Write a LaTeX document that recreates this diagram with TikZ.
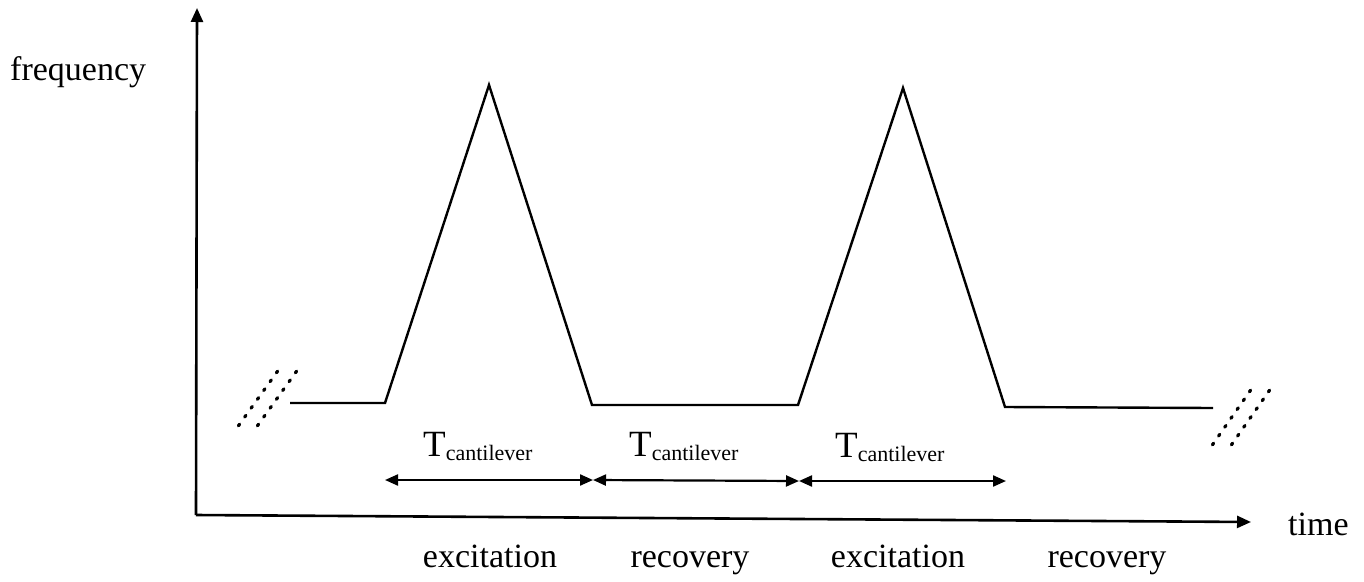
\documentclass[tikz,border=0pt]{standalone}
\usepackage{fontspec}
\setmainfont{Liberation Serif}
\usetikzlibrary{arrows.meta,calc}
\tikzset{
  axis/.style={line width=2.6pt,-{Triangle[length=14pt,width=12pt]}},
  signal/.style={line width=2.4pt,line join=miter},
  dimarrow/.style={line width=2.2pt,{Triangle[length=13pt,width=11pt]}-{Triangle[length=13pt,width=11pt]}},
  lbl/.style={font=\fontsize{34}{34}\selectfont,inner sep=0pt,anchor=base},
  tlbl/.style={inner sep=0pt,anchor=base west},
  dotseg/.style={line width=3.2pt,line cap=round}
}
\newcommand{\tcant}{{\fontsize{37}{37}\selectfont T}{\fontsize{22}{22}\selectfont\raisebox{-4pt}{cantilever}}}
\begin{document}
\begin{tikzpicture}[x=1pt,y=-1pt]
\useasboundingbox (0,0) rectangle (1364,581);
% axes
\coordinate (O) at (196,515);
\coordinate (ytop) at (197,8);
\coordinate (xend) at (1251,522);
\draw[axis] (O) -- (ytop);
\draw[axis] (O) -- (xend);
% axis labels
\node[lbl,anchor=base west] (freq) at (10,80) {frequency};
\node[lbl,anchor=base west] (time) at (1288,535) {time};
% signal
\coordinate (s0) at (290,403);
\coordinate (s1) at (385,403);
\coordinate (p1) at (489,85);
\coordinate (s2) at (592,405);
\coordinate (s3) at (798,405);
\coordinate (p2) at (903,88);
\coordinate (s4) at (1005,407);
\coordinate (s5) at (1213,408);
\draw[signal] (s0) -- (s1) -- (p1) -- (s2) -- (s3) -- (p2) -- (s4) -- (s5);
% break marks
\coordinate (la1) at (239,425); \coordinate (lb1) at (277,372);
\coordinate (la2) at (258,425); \coordinate (lb2) at (296,372);
\coordinate (ra1) at (1213,444); \coordinate (rb1) at (1250,391);
\coordinate (ra2) at (1232,444); \coordinate (rb2) at (1269,391);
\foreach \a/\b in {la1/lb1,la2/lb2,ra1/rb1,ra2/rb2}{
  \foreach \i in {0,...,6}{
    \draw[dotseg] ($(\a)!{\i/6-0.016}!(\b)$) -- ($(\a)!{\i/6+0.016}!(\b)$);
  }
}
% dimension arrows
\coordinate (d0) at (385,480);
\coordinate (d1) at (593,480);
\coordinate (d2) at (799,481);
\coordinate (d3) at (1006,481);
\draw[dimarrow] (d0) -- (d1);
\draw[dimarrow] (d1) -- (d2);
\draw[dimarrow] (d2) -- (d3);
\node[tlbl] (t1) at (423,456) {\tcant};
\node[tlbl] (t2) at (629,456) {\tcant};
\node[tlbl] (t3) at (835,457) {\tcant};
% phase labels
\node[lbl] (e1) at (490,567) {excitation};
\node[lbl] (r1) at (690,567) {recovery};
\node[lbl] (e2) at (898,567) {excitation};
\node[lbl] (r2) at (1107,567) {recovery};
\end{tikzpicture}
\end{document}
